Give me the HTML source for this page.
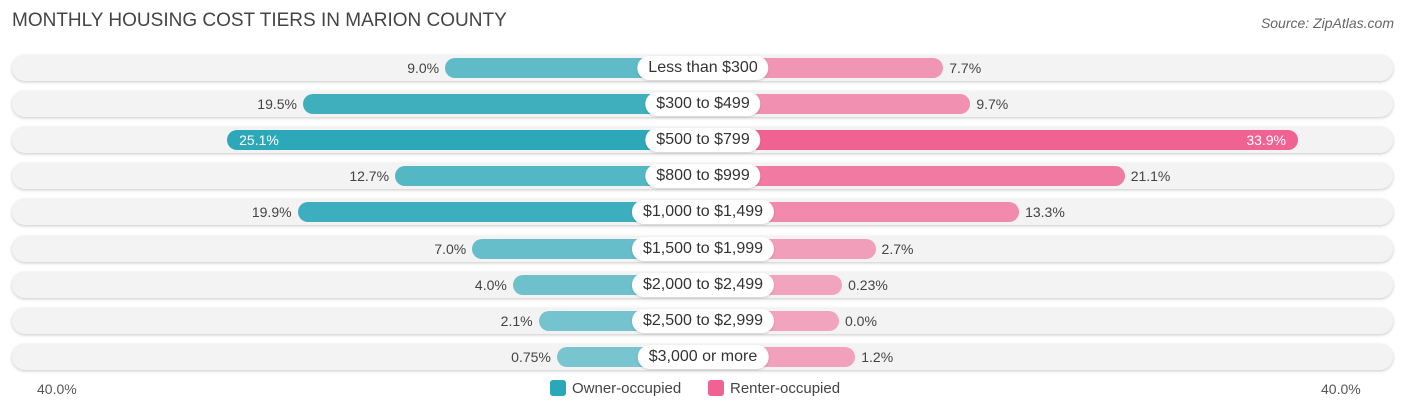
<!DOCTYPE html>
<html><head><meta charset="utf-8"><style>
body{margin:0;background:#fff;font-family:"Liberation Sans",sans-serif;}
#wrap{position:relative;width:1406px;height:414px;overflow:hidden;}
.t{position:absolute;white-space:nowrap;}
</style></head><body>
<div id="wrap">
<div class="t" style="left:12px;top:10px;font-size:19px;color:#444;">MONTHLY HOUSING COST TIERS IN MARION COUNTY</div>
<div class="t" style="right:12px;top:15px;font-size:14px;color:#666;font-style:italic;">Source: ZipAtlas.com</div>
<div id="rows"></div>
<div class="t" style="left:37px;top:381px;font-size:14px;color:#555;">40.0%</div>
<div class="t" style="left:1321px;top:381px;font-size:14px;color:#555;">40.0%</div>
<div class="t" style="left:550px;top:380px;font-size:15px;color:#444;"><span style="display:inline-block;width:16px;height:16px;background:#2aa7b8;border-radius:3px;vertical-align:-3px;margin-right:6px"></span>Owner-occupied</div>
<div class="t" style="left:708px;top:380px;font-size:15px;color:#444;"><span style="display:inline-block;width:16px;height:16px;background:#f06292;border-radius:3px;vertical-align:-3px;margin-right:6px"></span>Renter-occupied</div>
</div>
<script>
const categories=["Less than $300","$300 to $499","$500 to $799","$800 to $999","$1,000 to $1,499","$1,500 to $1,999","$2,000 to $2,499","$2,500 to $2,999","$3,000 or more"];
const ownerValues=[9.0,19.5,25.1,12.7,19.9,7.0,4.0,2.1,0.75];
const renterValues=[7.7,9.7,33.9,21.1,13.3,2.7,0.23,0.0,1.2];
const ownerLabels=["9.0%","19.5%","25.1%","12.7%","19.9%","7.0%","4.0%","2.1%","0.75%"];
const renterLabels=["7.7%","9.7%","33.9%","21.1%","13.3%","2.7%","0.23%","0.0%","1.2%"];
const CX=703,OFF=136,SC=13.54,Y0=68,DY=36.1;
function len(v){return OFF+v*SC;}
const rows=document.getElementById('rows');
const maxV=Math.max(...ownerValues,...renterValues);
function div(css){const d=document.createElement('div');d.style.cssText='position:absolute;'+css;return d;}
categories.forEach((c,i)=>{
  const y=Y0+i*DY;
  const bg=div(`left:12px;top:${y-13}px;width:1381px;height:26px;border-radius:13px;background:#f3f3f3;box-shadow:0 1px 3px rgba(0,0,0,0.22);`);
  
  
  rows.appendChild(bg);
  const ov=ownerValues[i],rv=renterValues[i];
  const ol=len(ov),rl=len(rv);
  const oa=0.6+0.4*ov/maxV*1.3, ra=0.55+0.45*rv/maxV;
  const ob=div(`left:${CX-ol}px;top:${y-10}px;width:${ol}px;height:20px;border-radius:10px;background:rgba(42,167,184,${Math.min(1,oa)});`);
  
  
  rows.appendChild(ob);
  const rb=div(`left:${CX}px;top:${y-10}px;width:${rl}px;height:20px;border-radius:10px;background:rgba(240,98,146,${Math.min(1,ra)});`);
  
  
  rows.appendChild(rb);
  const inO=ov>24, inR=rv>24;
  const otl=div(`top:${y-9}px;font-size:14px;line-height:18px;white-space:nowrap;color:${inO?'#fff':'#444'};`+(inO?`left:${CX-ol+12}px;`:`right:${1406-(CX-ol)+6}px;`));
  otl.textContent=ownerLabels[i];
  
  
  rows.appendChild(otl);
  const rtl=div(`top:${y-9}px;font-size:14px;line-height:18px;white-space:nowrap;color:${inR?'#fff':'#444'};`+(inR?`right:${1406-(CX+rl)+12}px;`:`left:${CX+rl+6}px;`));
  rtl.textContent=renterLabels[i];
  
  
  rows.appendChild(rtl);
  const lb=div(`left:${CX}px;top:${y-12}px;transform:translateX(-50%);height:24px;line-height:24px;padding:0 11px;border-radius:12px;background:#fff;font-size:16px;color:#333;white-space:nowrap;box-shadow:0 1px 2px rgba(0,0,0,0.15);`);
  lb.textContent=c;
  
  
  rows.appendChild(lb);
});
</script>
</body></html>
